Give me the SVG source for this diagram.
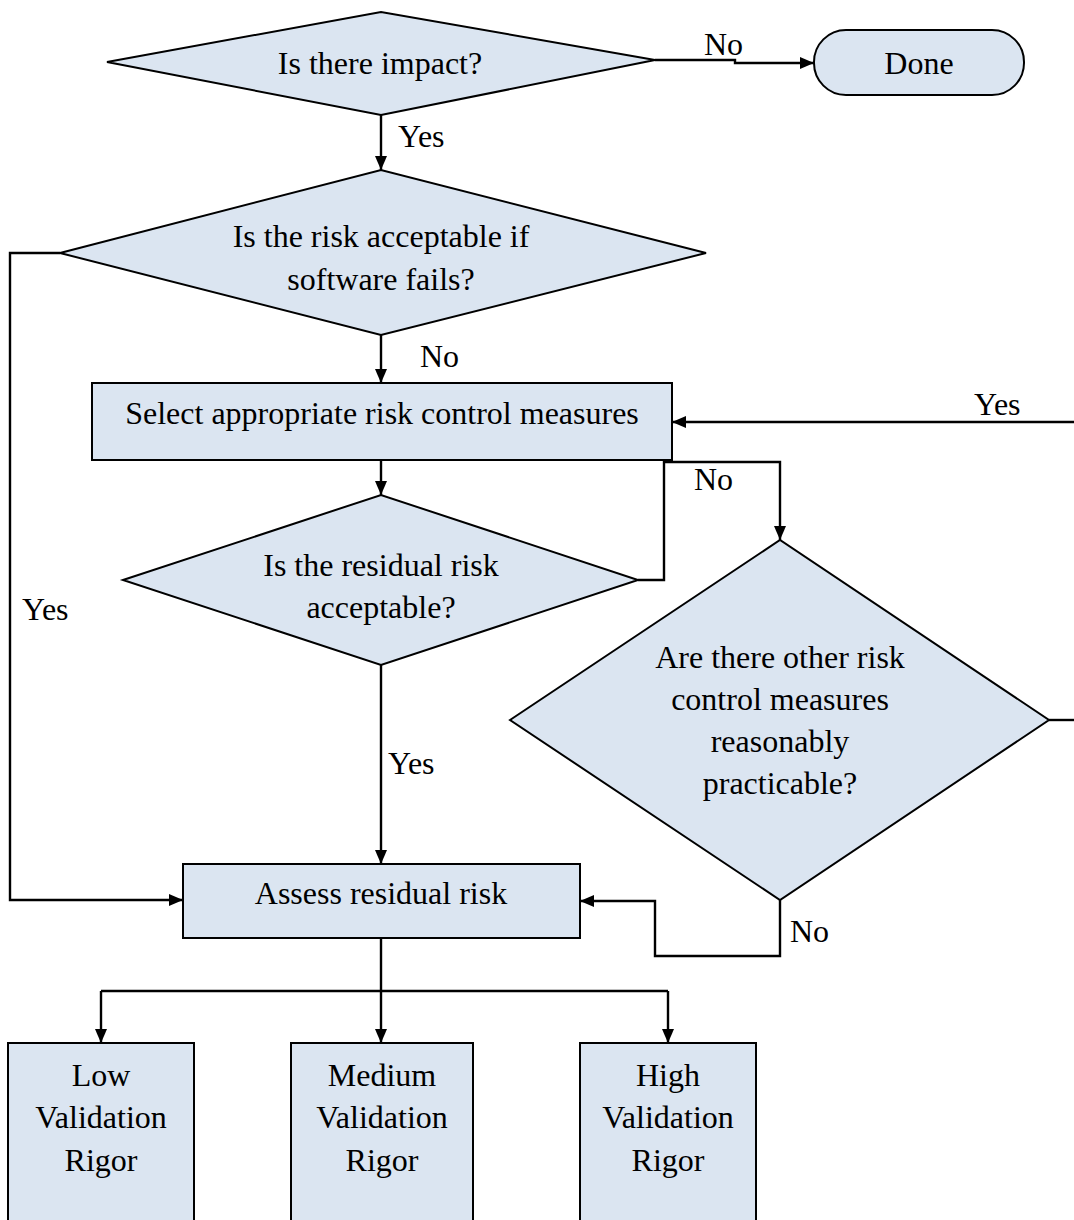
<svg xmlns="http://www.w3.org/2000/svg" width="1074" height="1220" viewBox="0 0 1074 1220">
<style>
.shape{fill:#dbe5f1;stroke:#000;stroke-width:2}
.t{font-family:'Liberation Serif',Tinos,'Times New Roman',Times,'Nimbus Roman',FreeSerif,'DejaVu Serif',serif;font-size:32px;fill:#000;text-anchor:middle}
.lbl{font-family:'Liberation Serif',Tinos,'Times New Roman',Times,'Nimbus Roman',FreeSerif,'DejaVu Serif',serif;font-size:32px;fill:#000}
.c{fill:none;stroke:#000;stroke-width:2.4}
</style>
<defs>
<marker id="arr" viewBox="0 0 14 12" refX="14" refY="6" markerWidth="14" markerHeight="12" markerUnits="userSpaceOnUse" orient="auto">
<path d="M0,0 L14,6 L0,12 z" fill="#000"/>
</marker>
</defs>
<rect width="1074" height="1220" fill="#fff"/>
<g id="connectors">
<path class="c" d="M655,60 H735 V63 H814" marker-end="url(#arr)"/>
<path class="c" d="M381,115 V170" marker-end="url(#arr)"/>
<path class="c" d="M60,253 H10 V900 H183" marker-end="url(#arr)"/>
<path class="c" d="M381,335 V383" marker-end="url(#arr)"/>
<path class="c" d="M1074,422 H672" marker-end="url(#arr)"/>
<path class="c" d="M381,460 V495" marker-end="url(#arr)"/>
<path class="c" d="M638,580 H664 V462 H780 V540" marker-end="url(#arr)"/>
<path class="c" d="M1049,720 H1074"/>
<path class="c" d="M780,900 V956 H655 V901 H580" marker-end="url(#arr)"/>
<path class="c" d="M381,665 V864" marker-end="url(#arr)"/>
<path class="c" d="M381,938 V991"/>
<path class="c" d="M101,991 H668"/>
<path class="c" d="M101,991 V1043" marker-end="url(#arr)"/>
<path class="c" d="M381,991 V1043" marker-end="url(#arr)"/>
<path class="c" d="M668,991 V1043" marker-end="url(#arr)"/>
<text class="lbl" x="704" y="55">No</text>
<text class="lbl" x="398" y="147">Yes</text>
<text class="lbl" x="420" y="367">No</text>
<text class="lbl" x="974" y="415">Yes</text>
<text class="lbl" x="694" y="490">No</text>
<text class="lbl" x="22" y="620">Yes</text>
<text class="lbl" x="388" y="774">Yes</text>
<text class="lbl" x="790" y="942">No</text>
</g>
<g id="n_impact">
<polygon class="shape" points="107,62 381,12 655,60 381,115"/>
<text class="t" x="380" y="74">Is there impact?</text>
</g>
<g id="n_done">
<rect class="shape" x="814" y="30" width="210" height="65" rx="32" ry="32"/>
<text class="t" x="919" y="74">Done</text>
</g>
<g id="n_risk_acceptable">
<polygon class="shape" points="60,253 381,170 706,253 381,335"/>
<text class="t" x="381" y="247">Is the risk acceptable if</text>
<text class="t" x="381" y="290">software fails?</text>
</g>
<g id="n_select">
<rect class="shape" x="92" y="383" width="580" height="77"/>
<text class="t" x="382" y="424">Select appropriate risk control measures</text>
</g>
<g id="n_residual">
<polygon class="shape" points="123,580 381,495 638,580 381,665"/>
<text class="t" x="381" y="576">Is the residual risk</text>
<text class="t" x="381" y="618">acceptable?</text>
</g>
<g id="n_other">
<polygon class="shape" points="510,720 780,540 1049,720 780,900"/>
<text class="t" x="780" y="668">Are there other risk</text>
<text class="t" x="780" y="710">control measures</text>
<text class="t" x="780" y="752">reasonably</text>
<text class="t" x="780" y="794">practicable?</text>
</g>
<g id="n_assess">
<rect class="shape" x="183" y="864" width="397" height="74"/>
<text class="t" x="381" y="904">Assess residual risk</text>
</g>
<g id="n_low">
<rect class="shape" x="8" y="1043" width="186" height="190"/>
<text class="t" x="101" y="1086">Low</text>
<text class="t" x="101" y="1128">Validation</text>
<text class="t" x="101" y="1171">Rigor</text>
</g>
<g id="n_medium">
<rect class="shape" x="291" y="1043" width="182" height="190"/>
<text class="t" x="382" y="1086">Medium</text>
<text class="t" x="382" y="1128">Validation</text>
<text class="t" x="382" y="1171">Rigor</text>
</g>
<g id="n_high">
<rect class="shape" x="580" y="1043" width="176" height="190"/>
<text class="t" x="668" y="1086">High</text>
<text class="t" x="668" y="1128">Validation</text>
<text class="t" x="668" y="1171">Rigor</text>
</g>
</svg>
